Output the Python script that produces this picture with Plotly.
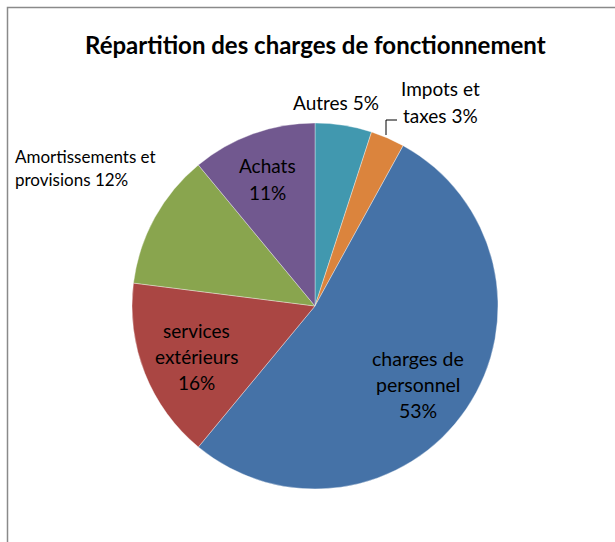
import plotly.graph_objects as go

W, H = 615, 542

# ---- data ----
categories = ["Autres", "Impots et taxes", "charges de personnel",
              "services extérieurs", "Amortissements et provisions", "Achats"]
values = [5, 3, 53, 16, 12, 11]
colors = ["#4198AF", "#DB843D", "#4572A7", "#AA4643", "#89A54E", "#71588F"]

# label line breaks (display text) and label placement (pixel centers)
label_lines = [
    ["Autres {p}"],
    ["Impots et", "taxes {p}"],
    ["charges de", "personnel", "{p}"],
    ["services", "extérieurs", "{p}"],
    ["Amortissements et", "provisions {p}"],
    ["Achats", "{p}"],
]
label_pos = [  # (x, y of first line, line spacing, anchor, font size)
    (336, 103, 26, "center", 19),
    (440, 88, 27, "center", 19),
    (418, 358, 26, "center", 19.5),
    (196, 330, 26, "center", 19),
    (13, 157, 23, "left", 17),
    (267, 165, 27, "center", 19),
]

FONT = "Lato, Open Sans, sans-serif"


def px(x, y):
    return x / W, 1 - y / H


cx, cy, r = 315, 306, 183
fig = go.Figure(go.Pie(
    labels=categories, values=values, sort=False, direction="clockwise",
    rotation=0, textinfo="none",
    marker=dict(colors=colors, line=dict(color="rgba(255,255,255,0.6)", width=0.6)),
    domain=dict(x=[(cx - r) / W, (cx + r) / W], y=[(H - cy - r) / H, (H - cy + r) / H]),
    showlegend=False,
))

total = sum(values)
annotations = []
for lines, v, (x, y, dy, anchor, fs) in zip(label_lines, values, label_pos):
    p = f"{round(100 * v / total)}%"
    for i, ln in enumerate(lines):
        ax, ay = px(x, y + i * dy)
        annotations.append(dict(
            x=ax, y=ay, xref="paper", yref="paper", text=ln.format(p=p),
            showarrow=False, xanchor=anchor, yanchor="middle",
            font=dict(family=FONT, size=fs, color="#000000"),
        ))

tx, ty = px(315, 45)
annotations.append(dict(
    x=tx, y=ty, xref="paper", yref="paper",
    text="<b>Répartition des charges de fonctionnement</b>", showarrow=False,
    xanchor="center", yanchor="middle",
    font=dict(family=FONT, size=24, color="#000000"),
))

shapes = []
# chart frame
fx0, fy1 = px(7.5, 7.5)
shapes.append(dict(type="rect", xref="paper", yref="paper", x0=fx0, x1=1.2,
                   y0=-0.2, y1=fy1, line=dict(color="#8a8a8a", width=1.5)))
# leader line for Impots et taxes
a = px(386, 135)
b = px(386, 120)
c = px(397, 120)
shapes.append(dict(type="path", xref="paper", yref="paper",
                   path=f"M {a[0]},{a[1]} L {b[0]},{b[1]} L {c[0]},{c[1]}",
                   line=dict(color="#000000", width=1)))

fig.update_layout(
    width=W, height=H, margin=dict(l=0, r=0, t=0, b=0),
    paper_bgcolor="white", plot_bgcolor="white",
    annotations=annotations, shapes=shapes,
)
fig.write_html("out.html")
